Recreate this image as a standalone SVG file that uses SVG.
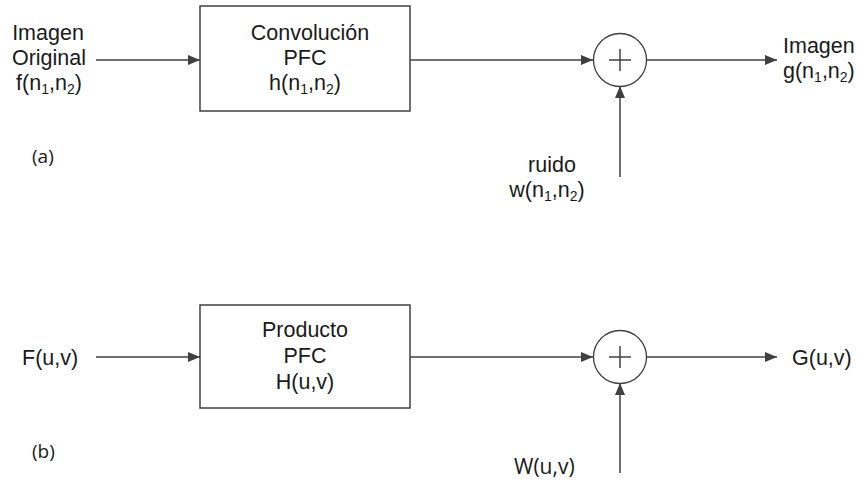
<svg xmlns="http://www.w3.org/2000/svg" width="857" height="488" viewBox="0 0 857 488">
<defs>
<marker id="ah" viewBox="0 0 12 10" refX="12" refY="5" markerWidth="12" markerHeight="10" markerUnits="userSpaceOnUse" orient="auto">
<path d="M0,0 L12,5 L0,10 z" fill="#404040"/>
</marker>
<style>
.t{font-family:"Liberation Sans",Arial,sans-serif;font-size:21.5px;fill:#1a1a1a}
.c{font-family:"Open Sans","Liberation Sans",sans-serif;font-size:19px;fill:#1a1a1a}
.m{text-anchor:middle}
.s{font-size:14px}
.box{fill:#fff;stroke:#404040;stroke-width:1.5}
.sum{fill:#fff;stroke:#404040;stroke-width:1.3}
.ln{stroke:#404040;stroke-width:1.5;fill:none}
.arr{stroke:#404040;stroke-width:1.5;fill:none;marker-end:url(#ah)}
</style>
</defs>
<rect width="857" height="488" fill="#fff"/>
<g id="connectors">
<line class="arr" x1="96" y1="60" x2="200" y2="60"/>
<line class="arr" x1="410" y1="60" x2="593" y2="60"/>
<line class="arr" x1="646" y1="60" x2="777" y2="60"/>
<line class="arr" x1="620" y1="177" x2="620" y2="86"/>
<line class="arr" x1="96" y1="357" x2="200" y2="357"/>
<line class="arr" x1="410" y1="357" x2="593" y2="357"/>
<line class="arr" x1="646" y1="357" x2="777" y2="357"/>
<line class="arr" x1="620" y1="473" x2="620" y2="383"/>
</g>
<g id="input-a">
<text class="t m" x="48" y="40">Imagen</text>
<text class="t m" x="49" y="65">Original</text>
<text class="t m" x="49" y="90">f(n<tspan class="s" dy="4">1</tspan><tspan dy="-4">,n</tspan><tspan class="s" dy="4">2</tspan><tspan dy="-4">)</tspan></text>
</g>
<g id="conv-box">
<rect class="box" x="200" y="6" width="210" height="105"/>
<text class="t m" x="310" y="40">Convolución</text>
<text class="t m" x="305" y="65">PFC</text>
<text class="t m" x="305" y="90">h(n<tspan class="s" dy="4">1</tspan><tspan dy="-4">,n</tspan><tspan class="s" dy="4">2</tspan><tspan dy="-4">)</tspan></text>
</g>
<g id="sum-a">
<circle class="sum" cx="620" cy="60" r="26.5"/>
<line class="ln" x1="609" y1="60" x2="631" y2="60"/>
<line class="ln" x1="620" y1="49" x2="620" y2="71"/>
</g>
<g id="output-a">
<text class="t" x="783" y="53">Imagen</text>
<text class="t" x="783" y="78">g(n<tspan class="s" dy="4">1</tspan><tspan dy="-4">,n</tspan><tspan class="s" dy="4">2</tspan><tspan dy="-4">)</tspan></text>
</g>
<g id="noise-a">
<text class="t m" x="552" y="172">ruido</text>
<text class="t m" x="547" y="197">w(n<tspan class="s" dy="4">1</tspan><tspan dy="-4">,n</tspan><tspan class="s" dy="4">2</tspan><tspan dy="-4">)</tspan></text>
</g>
<g id="label-a"><text class="c" x="32" y="163">(a)</text></g>
<g id="input-b"><text class="t" x="22" y="365">F(u,v)</text></g>
<g id="prod-box">
<rect class="box" x="200" y="305" width="210" height="103"/>
<text class="t m" x="305" y="337">Producto</text>
<text class="t m" x="305" y="363">PFC</text>
<text class="t m" x="305" y="389">H(u,v)</text>
</g>
<g id="sum-b">
<circle class="sum" cx="620" cy="357" r="26.5"/>
<line class="ln" x1="609" y1="357" x2="631" y2="357"/>
<line class="ln" x1="620" y1="346" x2="620" y2="368"/>
</g>
<g id="output-b"><text class="t" x="792" y="365">G(u,v)</text></g>
<g id="noise-b"><text class="c" x="514" y="474" style="font-size:21px">W(u,v)</text></g>
<g id="label-b"><text class="c" x="32" y="458">(b)</text></g>
</svg>
